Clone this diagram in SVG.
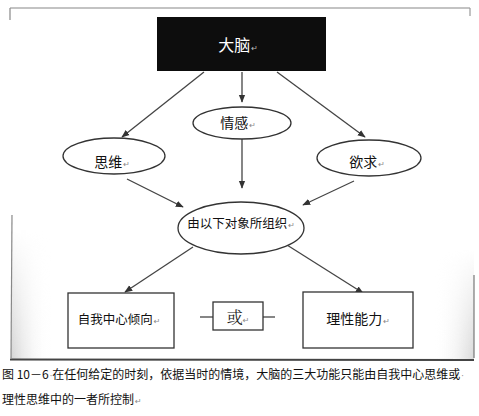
<svg xmlns="http://www.w3.org/2000/svg" width="479" height="416" viewBox="0 0 479 416">
  <defs>
    <marker id="ah" viewBox="0 0 10 10" refX="9" refY="5" markerWidth="8" markerHeight="8" markerUnits="userSpaceOnUse" orient="auto">
      <path d="M0,1 L10,5 L0,9 Z" fill="#333"/>
    </marker>
    <linearGradient id="leftShade" x1="0" y1="0" x2="1" y2="0">
      <stop offset="0" stop-color="#c8c8c8" stop-opacity="0.8"/>
      <stop offset="1" stop-color="#ffffff" stop-opacity="0"/>
    </linearGradient>
    <linearGradient id="rightShade" x1="1" y1="0" x2="0" y2="0">
      <stop offset="0" stop-color="#c8c8c8" stop-opacity="0.7"/>
      <stop offset="1" stop-color="#ffffff" stop-opacity="0"/>
    </linearGradient>
    <linearGradient id="vfade" x1="0" y1="0" x2="0" y2="1">
      <stop offset="0" stop-color="#000"/>
      <stop offset="1" stop-color="#fff"/>
    </linearGradient>
    <mask id="fadeMask" maskContentUnits="objectBoundingBox">
      <rect width="1" height="1" fill="url(#vfade)"/>
    </mask>
    <filter id="soft" x="-5%" y="-5%" width="110%" height="110%">
      <feGaussianBlur stdDeviation="0.6"/>
    </filter>
  </defs>
  <style>
    .t { font-family: "Noto Sans CJK SC", "Liberation Sans", sans-serif; fill: #111; }
    .mark { font-family: "DejaVu Sans", sans-serif; font-size: 8px; fill: #888; }
    .node { fill: #fff; stroke: #333; stroke-width: 1.3; }
    .conn { stroke: #444; stroke-width: 1.3; fill: none; marker-end: url(#ah); }
    .cap { font-family: "Noto Sans CJK SC", "Liberation Sans", sans-serif; font-size: 12px; fill: #111; }
  </style>
  <rect width="479" height="416" fill="#fff"/>

  <g id="frame">
    <rect x="11" y="230" width="40" height="129" fill="url(#leftShade)" mask="url(#fadeMask)"/>
    <rect x="434" y="250" width="40" height="109" fill="url(#rightShade)" mask="url(#fadeMask)"/>
    <path d="M10,8 L470,8" stroke="#888" stroke-width="1.2"/>
    <path d="M10,8 L10,20" stroke="#888" stroke-width="1.2"/>
    <path d="M470,8 L470,16" stroke="#999" stroke-width="1.2"/>
    <path d="M12,215 L11,358" stroke="#888" stroke-width="1.2"/>
    <path d="M474,275 L474,358" stroke="#777" stroke-width="1.2"/>
    <path d="M10,359.5 L474,360" stroke="#444" stroke-width="2"/>
  </g>

  <g id="connectors">
    <line class="conn" x1="204" y1="72" x2="122" y2="137"/>
    <line class="conn" x1="242" y1="72" x2="242" y2="102"/>
    <line class="conn" x1="277" y1="72" x2="365" y2="137"/>
    <line class="conn" x1="242" y1="139" x2="242" y2="188"/>
    <line class="conn" x1="127" y1="179" x2="183" y2="207"/>
    <line class="conn" x1="354" y1="181" x2="303" y2="205"/>
    <line class="conn" x1="193" y1="247" x2="125" y2="292"/>
    <line class="conn" x1="287" y1="245" x2="363" y2="293"/>
    <line x1="200" y1="317" x2="214" y2="317" stroke="#444" stroke-width="1.3"/>
    <line x1="262" y1="317" x2="275" y2="317" stroke="#444" stroke-width="1.3"/>
  </g>

  <g id="node-brain">
    <rect x="157" y="17" width="169" height="54" fill="#0a0a0a" filter="url(#soft)"/>
    <text x="238" y="51" class="t" font-size="16" text-anchor="middle" style="fill:#fff">大脑<tspan class="mark" style="fill:#bbb" dx="1">↵</tspan></text>
  </g>

  <g id="node-emotion">
    <ellipse class="node" cx="242" cy="123" rx="49" ry="16"/>
    <text x="238" y="128" class="t" font-size="14" text-anchor="middle">情感<tspan class="mark" dx="1">↵</tspan></text>
  </g>

  <g id="node-thinking">
    <ellipse class="node" cx="114" cy="156" rx="51" ry="18"/>
    <text x="112" y="167" class="t" font-size="14" text-anchor="middle">思维<tspan class="mark" dx="1">↵</tspan></text>
  </g>

  <g id="node-desire">
    <ellipse class="node" cx="369" cy="158" rx="52" ry="18"/>
    <text x="367" y="167" class="t" font-size="14" text-anchor="middle">欲求<tspan class="mark" dx="1">↵</tspan></text>
  </g>

  <g id="node-organized">
    <ellipse class="node" cx="241" cy="228" rx="63" ry="26"/>
    <text x="241" y="228" class="t" font-size="12.5" text-anchor="middle">由以下对象所组织<tspan class="mark" dx="1">↵</tspan></text>
  </g>

  <g id="node-egocentric">
    <rect class="node" x="68" y="293" width="106" height="55"/>
    <text x="119" y="324" class="t" font-size="12.5" text-anchor="middle">自我中心倾向<tspan class="mark" dx="1">↵</tspan></text>
  </g>

  <g id="node-or">
    <rect class="node" x="213" y="302" width="50" height="28"/>
    <text x="238" y="323" font-family="'Noto Serif CJK SC', 'Noto Sans CJK SC', serif" font-size="16" fill="#222" text-anchor="middle">或<tspan class="mark" dx="0">↵</tspan></text>
  </g>

  <g id="node-rational">
    <rect class="node" x="303" y="292" width="110" height="56"/>
    <text x="358" y="324" class="t" font-size="14" text-anchor="middle">理性能力<tspan class="mark" dx="1">↵</tspan></text>
  </g>

  <g id="caption">
    <text x="2" y="379" class="cap">图 10－6<tspan class="mark" dx="1">·</tspan>在任何给定的时刻，依据当时的情境，大脑的三大功能只能由自我中心思维或<tspan class="mark" dx="1">·</tspan></text>
    <text x="2" y="404" class="cap">理性思维中的一者所控制<tspan class="mark" dx="1">↵</tspan></text>
  </g>
</svg>
